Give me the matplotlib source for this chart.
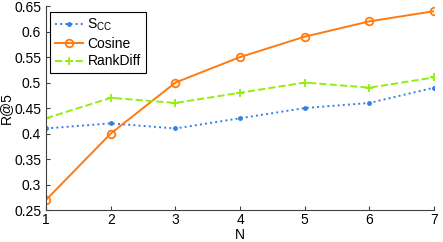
import matplotlib
matplotlib.use("Agg")
import matplotlib.pyplot as plt

N = [1, 2, 3, 4, 5, 6, 7]
scc = [0.41, 0.42, 0.41, 0.43, 0.45, 0.46, 0.49]
cosine = [0.27, 0.40, 0.50, 0.55, 0.59, 0.62, 0.64]
rankdiff = [0.43, 0.47, 0.46, 0.48, 0.50, 0.49, 0.51]
yticks = [0.25, 0.3, 0.35, 0.4, 0.45, 0.5, 0.55, 0.6, 0.65]

plt.rcParams['font.family'] = ['Liberation Sans', 'DejaVu Sans']
fig = plt.figure(figsize=(4.43, 2.42), dpi=100)
ax = fig.add_axes([0.104, 0.132, 0.876, 0.843])

ax.plot(N, scc, ':', color='#3580e0', marker='.', markersize=5, lw=1.4, label=r'S$_{\mathregular{CC}}$')
ax.plot(N, cosine, '-', color='#ff7a10', marker='o', markersize=5.5, mfc='none', mew=1.3, lw=1.4, label='Cosine')
ax.plot(N, rankdiff, '--', color='#90ee10', marker='+', markersize=6, mew=1.3, lw=1.4, label='RankDiff')

ax.set_xlim(1, 7)
ax.set_ylim(0.25, 0.65)
ax.set_xticks(N)
ax.set_yticks(yticks)
ax.set_yticklabels([f"{v:g}" for v in yticks])
ax.tick_params(direction='in', length=3, labelsize=10, color='#404040')
ax.tick_params(axis='x', pad=2)
ax.spines['top'].set_visible(False)
ax.spines['right'].set_visible(False)
for s in ['left', 'bottom']:
    ax.spines[s].set_color('#404040')
ax.set_xlabel('N', fontsize=10, labelpad=1)
ax.set_ylabel('R@5', fontsize=10, labelpad=1)

leg = ax.legend(loc='upper left', bbox_to_anchor=(0.01, 0.97), fontsize=10,
                fancybox=False, edgecolor='black', framealpha=1,
                handlelength=2.0, handletextpad=0.35, borderpad=0.35,
                labelspacing=0.25, borderaxespad=0)
leg.get_frame().set_linewidth(0.8)

fig.savefig('out.png', dpi=100)
